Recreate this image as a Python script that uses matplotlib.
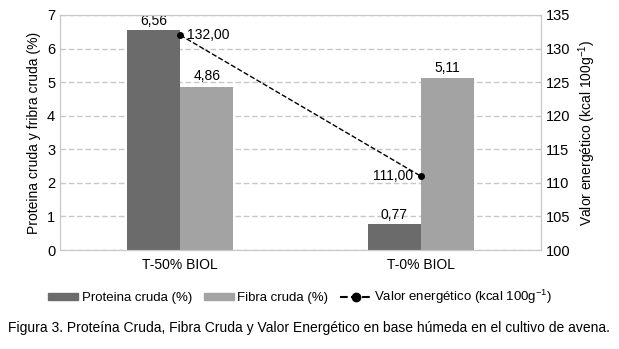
import matplotlib as mpl
mpl.use('Agg')
from matplotlib import pyplot as plt
from matplotlib.lines import Line2D
from matplotlib.patches import Patch
import numpy as np

categories = ['T-50% BIOL', 'T-0% BIOL']
proteina = [6.56, 0.77]
fibra = [4.86, 5.11]
energia = [132.00, 111.00]

plt.rcParams['font.family'] = ['Liberation Sans', 'DejaVu Sans']
plt.rcParams['font.size'] = 10

c_prot = '#6b6b6b'
c_fib = '#a3a3a3'
grid_c = '#c8c8c8'

fig = plt.figure(figsize=(6.19, 3.49), dpi=100)
ax = fig.add_axes([60 / 619, 1 - 250 / 349, 481 / 619, 235 / 349])
ax2 = ax.twinx()

x = np.arange(len(categories))
w = 0.22
ax.bar(x - w / 2, proteina, w, color=c_prot, zorder=2)
ax.bar(x + w / 2, fibra, w, color=c_fib, zorder=2)

for xi, v in zip(x - w / 2, proteina):
  ax.text(xi, v + 0.05, '{0:.2f}'.format(v).replace('.', ','), ha='center', va='bottom')
for xi, v in zip(x + w / 2, fibra):
  ax.text(xi, v + 0.1, '{0:.2f}'.format(v).replace('.', ','), ha='center', va='bottom')

ax.set_xlim(-0.5, 1.5)
ax.set_ylim(0, 7)
ax.set_yticks(range(0, 8))
ax.set_xticks(x)
ax.set_xticklabels(categories)
ax.yaxis.grid(True, linestyle=(0, (4, 2)), color=grid_c, linewidth=1, zorder=0)
ax.set_axisbelow(True)
ax.set_ylabel('Proteina cruda y fribra cruda (%)')

sup = '$^{\\mathregular{-1}}$'
ax2.plot(x, energia, color='black', linestyle='--', linewidth=1, marker='o', markersize=4, zorder=3)
ax2.set_ylim(100, 135)
ax2.set_yticks(range(100, 136, 5))
ax2.set_ylabel('Valor energético (kcal 100g' + sup + ')')
ax2.text(x[0] + 0.03, energia[0], '{0:.2f}'.format(energia[0]).replace('.', ','), ha='left', va='center')
ax2.text(x[1] - 0.03, energia[1], '{0:.2f}'.format(energia[1]).replace('.', ','), ha='right', va='center')

for a in (ax, ax2):
  for s in a.spines.values():
    s.set_color(grid_c)
  a.tick_params(length=0, labelsize=10.5)
ax.tick_params(axis='x', labelsize=10, pad=6)

handles = [Patch(color=c_prot), Patch(color=c_fib),
           Line2D([], [], color='black', linestyle='--', marker='o', markersize=6)]
labels = ['Proteina cruda (%)', 'Fibra cruda (%)', 'Valor energético (kcal 100g' + sup + ')']
fig.legend(handles, labels, loc='center', bbox_to_anchor=(300 / 619, 1 - 297 / 349), ncol=3,
           frameon=False, handlelength=2.3, handleheight=0.4, columnspacing=0.9,
           handletextpad=0.25, fontsize=9.5)

fig.text(8 / 619, 1 - 328 / 349,
         'Figura 3. Proteína Cruda, Fibra Cruda y Valor Energético en base húmeda en el cultivo de avena.',
         ha='left', va='center', fontsize=10)

fig.savefig('out.png', dpi=100)
